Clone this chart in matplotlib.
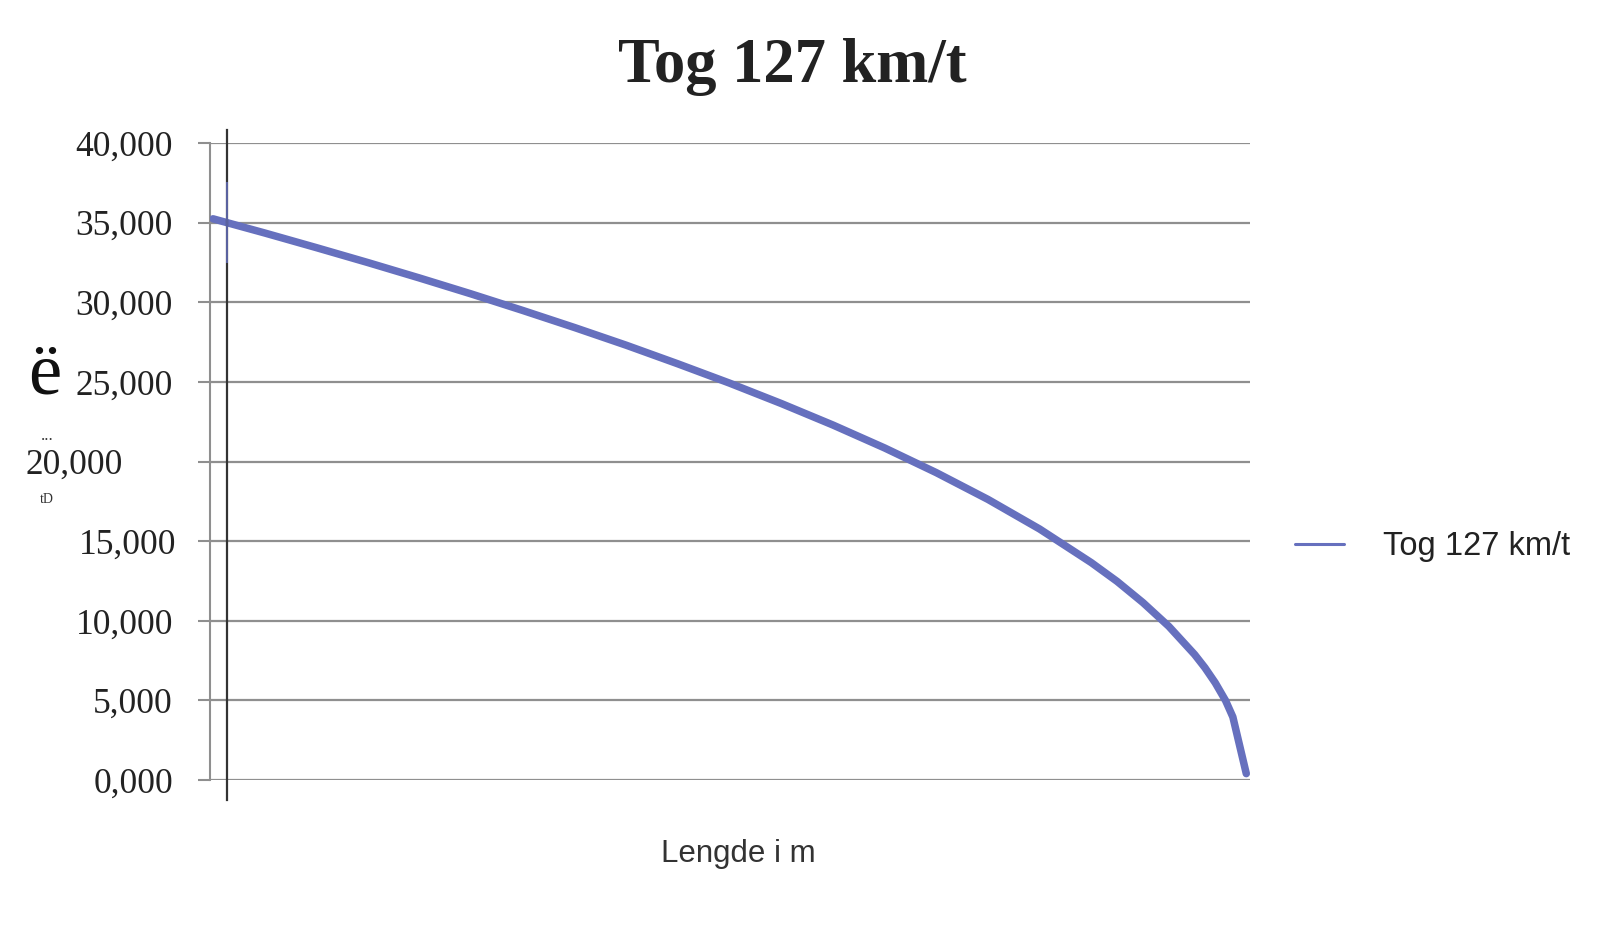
import matplotlib
matplotlib.use("Agg")
import matplotlib.pyplot as plt
from matplotlib.lines import Line2D
from matplotlib.transforms import ScaledTranslation

# ---- data ----
title = "Tog 127 km/t"
series_name = "Tog 127 km/t"
x_label = "Lengde i m"
distance = [0, 50, 100, 150, 200, 250, 300, 350, 400, 450, 500, 550, 600,
            650, 700, 750, 800, 850, 875, 900, 925, 950, 960, 970, 980, 987, 1000]
speed = [35.24, 34.35, 33.43, 32.49, 31.52, 30.52, 29.48, 28.41, 27.30,
         26.13, 24.92, 23.64, 22.29, 20.85, 19.30, 17.62, 15.76, 13.65,
         12.47, 11.14, 9.65, 7.88, 7.05, 6.10, 4.98, 3.96, 0.40]
y_ticks = [0, 5, 10, 15, 20, 25, 30, 35, 40]
y_tick_labels = ["0,000", "5,000", "10,000", "15,000", "20,000",
                 "25,000", "30,000", "35,000", "40,000"]

W, H = 1600, 936
fig = plt.figure(figsize=(W / 100, H / 100), dpi=100)
fig.patch.set_facecolor("white")

left_px, right_px, top_px, bottom_px = 210, 1250, 143, 780
ax = fig.add_axes([left_px / W, 1 - bottom_px / H,
                   (right_px - left_px) / W, (bottom_px - top_px) / H])

line_color = "#6670BE"
grid_color = "#8f8f8f"

ax.plot(distance, speed, color=line_color, lw=5.4, solid_capstyle="round",
        solid_joinstyle="round", label=series_name, zorder=3)

ax.set_xlim(-2.9, 1003.6)
ax.set_ylim(0, 40)
ax.set_xticks([])
ax.set_yticks(y_ticks)
ax.set_yticklabels(y_tick_labels, fontfamily="Liberation Serif",
                   fontsize=25.5, color="#222222")
ax.tick_params(axis="y", length=8.6, width=1.5, color=grid_color,
               pad=18, direction="out")
for v in y_ticks:
    ax.axhline(v, color=grid_color, lw=1.6, zorder=1)

# the reference shows the 20,000 label shifted left, 15,000 slightly right
for lbl in ax.get_yticklabels():
    if lbl.get_text() == "20,000":
        lbl.set_transform(lbl.get_transform() +
                          ScaledTranslation(-50 / 100, 0, fig.dpi_scale_trans))
    elif lbl.get_text() == "15,000":
        lbl.set_transform(lbl.get_transform() +
                          ScaledTranslation(3 / 100, 0, fig.dpi_scale_trans))

for s in ["top", "right", "bottom"]:
    ax.spines[s].set_visible(False)
ax.spines["left"].set_color(grid_color)
ax.spines["left"].set_linewidth(1.5)

# black vertical line next to the axis
fig.add_artist(Line2D([227 / W, 227 / W], [1 - 130 / H, 1 - 800 / H],
                      color="#333333", lw=1.6))
fig.add_artist(Line2D([227 / W, 227 / W], [1 - 183 / H, 1 - 262 / H],
                      color=line_color, lw=1.4, alpha=0.8))

# title
fig.text(792 / W, 1 - 82 / H, title, ha="center", va="baseline",
         fontfamily="Liberation Serif", fontweight="bold", fontsize=45,
         color="#222222")

# x label
fig.text(738 / W, 1 - 862 / H, x_label, ha="center", va="baseline",
         fontfamily="Liberation Sans", fontsize=22.5, color="#333333")

# garbled y-axis label remnants
fig.text(45 / W, 1 - 393 / H, "ë", ha="center", va="baseline",
         fontfamily="Liberation Serif", fontsize=54, color="#111111")
fig.text(47 / W, 1 - 440 / H, "...", ha="center", va="baseline",
         fontfamily="Liberation Serif", fontsize=12, color="#333333")
fig.text(47 / W, 1 - 503 / H, "tD", ha="center", va="baseline",
         fontfamily="Liberation Serif", fontsize=10, color="#333333")

# legend
leg = fig.legend(loc="center left", bbox_to_anchor=(1295 / W, 1 - 547 / H),
                 frameon=False, borderpad=0, borderaxespad=0,
                 handlelength=1.5, handletextpad=1.2,
                 prop={"family": "Liberation Sans", "size": 23.5})
for h in leg.get_lines():
    h.set_linewidth(2.2)
for t in leg.get_texts():
    t.set_color("#222222")

fig.savefig("out.png", dpi=100, facecolor="white")
